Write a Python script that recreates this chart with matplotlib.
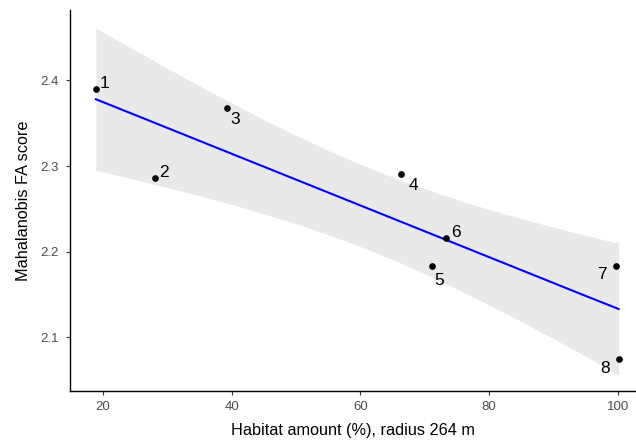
import matplotlib
matplotlib.use('Agg')
import matplotlib.pyplot as plt

plt.rcParams['font.family'] = ['Liberation Sans', 'DejaVu Sans']

# site data
site_labels = ['1', '2', '3', '4', '5', '6', '7', '8']
habitat = [18.9, 28.1, 39.3, 66.3, 71.1, 73.3, 99.7, 100.1]
fa_score = [2.390, 2.2855, 2.3678, 2.2905, 2.1830, 2.2163, 2.1827, 2.0751]

# label offsets in points (dx, dy)
label_offsets = [(6, 4), (6, 4), (6, -8), (9, -8), (5, -10), (7, 4), (-10, -6), (-10, -7)]

# fitted line and confidence band
fit_x = [18.9, 25, 30, 35, 40, 45, 50, 55, 60, 65, 70, 75, 80, 85, 90, 95, 100.1]
fit_y = [2.378, 2.3596, 2.3445, 2.3294, 2.3143, 2.2992, 2.2841, 2.2690, 2.2539,
         2.2388, 2.2237, 2.2086, 2.1935, 2.1784, 2.1633, 2.1482, 2.1330]
band_lo = [2.295, 2.2841, 2.2749, 2.2653, 2.2551, 2.2442, 2.2325, 2.2197, 2.2059,
           2.1906, 2.1741, 2.1564, 2.1378, 2.1183, 2.0981, 2.0775, 2.0560]
band_hi = [2.461, 2.4351, 2.4141, 2.3935, 2.3735, 2.3542, 2.3357, 2.3183, 2.3019,
           2.2870, 2.2733, 2.2608, 2.2492, 2.2385, 2.2285, 2.2189, 2.2098]

fig = plt.figure(figsize=(6.36, 4.44), dpi=100)
ax = fig.add_axes([0.110, 0.119, 0.890, 0.858])

ax.fill_between(fit_x, band_lo, band_hi, color='#e9e9e9', lw=0, zorder=1)
ax.plot(fit_x, fit_y, color='#0000ff', lw=1.5, zorder=2)
ax.plot(habitat, fa_score, 'o', color='black', ms=3.8, zorder=3)

for lab, x, y, (dx, dy) in zip(site_labels, habitat, fa_score, label_offsets):
    ax.annotate(lab, (x, y), xytext=(dx, dy), textcoords='offset points',
                ha='center', va='center', fontsize=12.5, color='black')

ax.set_xlim(14.87, 102.8)
ax.set_ylim(2.037, 2.482)
ax.set_xticks([20, 40, 60, 80, 100])
ax.set_yticks([2.1, 2.2, 2.3, 2.4])
ax.tick_params(colors='#4d4d4d', labelsize=9.5, length=3, width=0.8, pad=4)
ax.tick_params(axis='y', pad=5)
ax.tick_params(axis='both', color='#333333')

for s in ['top', 'right']:
    ax.spines[s].set_visible(False)
for s in ['left', 'bottom']:
    ax.spines[s].set_linewidth(1.0)
    ax.spines[s].set_color('black')

ax.set_xlabel('Habitat amount (%), radius 264 m', fontsize=11.7, labelpad=7)
ax.set_ylabel('Mahalanobis FA score', fontsize=11.7, labelpad=7)

fig.savefig('out.png', dpi=100)
